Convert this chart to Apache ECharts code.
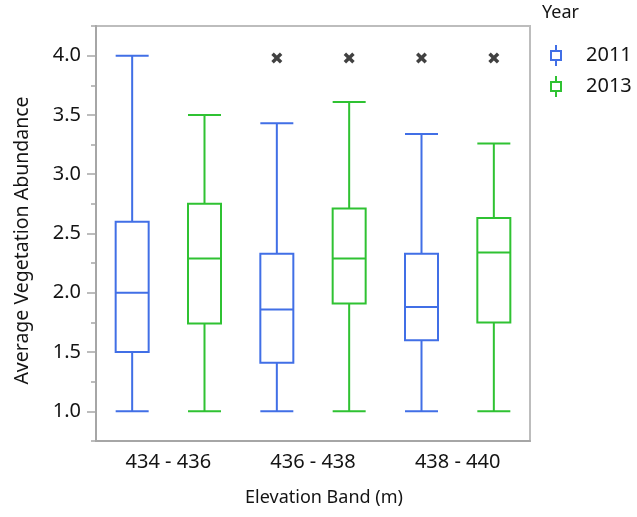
<!DOCTYPE html>
<html>
<head>
<meta charset="utf-8">
<script src="https://cdn.jsdelivr.net/npm/echarts@6/dist/echarts.min.js"></script>
<style>
  html, body { margin: 0; padding: 0; background: #fff; }
  #chart { width: 637px; height: 517px; }
</style>
</head>
<body>
<div id="chart"></div>
<script>
// categories and years
var categories = ["434 - 436", "436 - 438", "438 - 440"];
var years = ["2011", "2013"];
// [min, Q1, median, Q3, max] per elevation band
var box2011 = [
  [1.0, 1.5, 2.0, 2.6, 4.0],
  [1.0, 1.41, 1.86, 2.33, 3.43],
  [1.0, 1.6, 1.88, 2.33, 3.34]
];
var box2013 = [
  [1.0, 1.74, 2.29, 2.75, 3.5],
  [1.0, 1.91, 2.29, 2.71, 3.61],
  [1.0, 1.75, 2.34, 2.63, 3.26]
];
// outliers: [band index, value]
var out2011 = [[1, 3.98], [2, 3.98]];
var out2013 = [[1, 3.98], [2, 3.98]];
// y ticks
var yLabels = [1.0, 1.5, 2.0, 2.5, 3.0, 3.5, 4.0];
var yMinorTicks = [0.75, 1.25, 1.75, 2.25, 2.75, 3.25, 3.75, 4.25];

var colors = ["#416fe6", "#2fc232"];
var font = "Noto Sans";
var ink = "#141414";

// hidden slots: one per band and year
var slots = [];
categories.forEach(function (c) {
  years.forEach(function (y) { slots.push(c + " " + y); });
});
function toSlots(boxes, yearIdx) {
  var res = [];
  for (var i = 0; i < slots.length; i++) {
    if (i % 2 === yearIdx) res.push(boxes[Math.floor(i / 2)]);
    else res.push(["-", "-", "-", "-", "-"]);
  }
  return res;
}
function outSlots(pts, yearIdx) {
  return pts.map(function (p) { return [p[0] * 2 + yearIdx, p[1]]; });
}

var icon = "path://M5,0L5,6M0,6L10,6L10,15L0,15ZM5,15L5,21";

var myChart = echarts.init(document.getElementById("chart"));
myChart.setOption({
  animation: false,
  textStyle: { fontFamily: font },
  title: {
    text: "Year",
    left: 542,
    top: 4,
    padding: 0,
    textStyle: { fontSize: 18, fontWeight: "normal", color: ink, fontFamily: font }
  },
  legend: {
    orient: "vertical",
    left: 550,
    top: 44,
    itemWidth: 10,
    itemHeight: 21,
    itemGap: 8,
    padding: 0,
    symbolKeepAspect: false,
    data: years.map(function (y, i) {
      return {
        name: y,
        icon: icon,
        itemStyle: { color: "#fff", borderColor: colors[i], borderWidth: 2 }
      };
    }),
    textStyle: { fontSize: 20, color: ink, fontFamily: font, padding: [0, 0, 0, 20] }
  },
  grid: {
    left: 96,
    right: 107,
    top: 26,
    bottom: 76,
    show: true,
    borderColor: "#bdbdbd",
    borderWidth: 2
  },
  xAxis: [
    {
      type: "category",
      data: categories,
      name: "Elevation Band (m)",
      nameLocation: "middle",
      nameGap: 48,
      nameTextStyle: { fontSize: 18, color: ink, fontFamily: font, padding: [0, 0, 0, 22] },
      axisLine: { lineStyle: { color: "#a6a6a6", width: 2 } },
      axisTick: { show: false },
      axisLabel: { fontSize: 20, color: ink, margin: 11, fontFamily: font }
    },
    { type: "category", data: slots, show: false },
    { type: "category", data: slots, show: false }
  ],
  yAxis: [
    {
      type: "value",
      position: "left",
      min: 0.75,
      max: 4.25,
      name: "Average Vegetation Abundance",
      nameLocation: "middle",
      nameGap: 64,
      nameTextStyle: { fontSize: 19.5, color: ink, fontFamily: font, padding: [0, 14, 0, 0] },
      splitLine: { show: false },
      axisLine: { show: true, lineStyle: { color: "#a6a6a6", width: 2 } },
      axisTick: {
        show: true,
        length: 9,
        customValues: yLabels,
        lineStyle: { color: "#a6a6a6", width: 1.5 }
      },
      axisLabel: {
        fontSize: 20,
        color: ink,
        margin: 15,
        fontFamily: font,
        customValues: yLabels,
        formatter: function (v) { return v.toFixed(1); }
      }
    },
    {
      type: "value",
      position: "left",
      min: 0.75,
      max: 4.25,
      splitLine: { show: false },
      axisLine: { show: false },
      axisLabel: { show: false },
      axisTick: {
        show: true,
        length: 5,
        customValues: yMinorTicks,
        lineStyle: { color: "#a6a6a6", width: 1.5 }
      }
    }
  ],
  series: [
    {
      name: years[0],
      type: "boxplot",
      xAxisIndex: 1,
      yAxisIndex: 0,
      boxWidth: [33, 33],
      data: toSlots(box2011, 0),
      itemStyle: { color: "rgba(255,255,255,0)", borderColor: colors[0], borderWidth: 2 }
    },
    {
      name: years[1],
      type: "boxplot",
      xAxisIndex: 2,
      yAxisIndex: 0,
      boxWidth: [33, 33],
      data: toSlots(box2013, 1),
      itemStyle: { color: "rgba(255,255,255,0)", borderColor: colors[1], borderWidth: 2 }
    },
    {
      name: "outliers",
      type: "scatter",
      xAxisIndex: 1,
      yAxisIndex: 0,
      symbol: "path://M0,2.2L2.2,0L5,2.8L7.8,0L10,2.2L7.2,5L10,7.8L7.8,10L5,7.2L2.2,10L0,7.8L2.8,5Z",
      symbolSize: 11,
      itemStyle: { color: "#111" },
      data: outSlots(out2011, 0).concat(outSlots(out2013, 1))
    }
  ]
});
</script>
</body>
</html>
